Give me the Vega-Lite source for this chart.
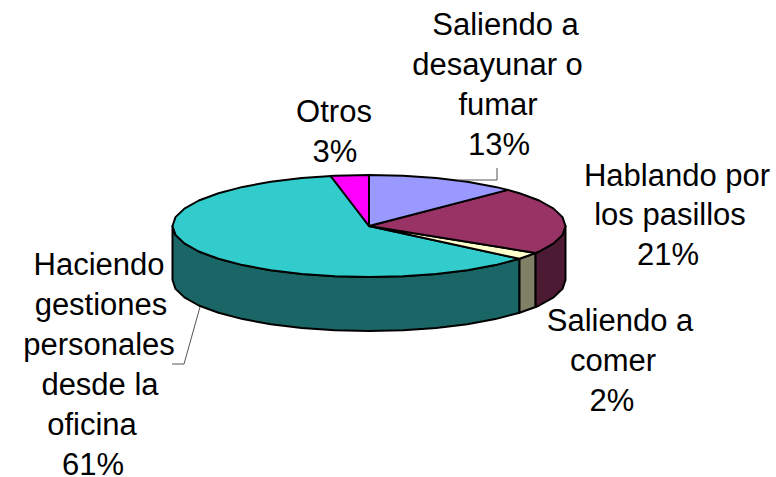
{"$schema":"https://vega.github.io/schema/vega-lite/v6.json","width":776,"height":477,"padding":0,"autosize":"none","background":"white","config":{"view":{"stroke":null}},"projection":{"type":"identity","reflectY":true,"scale":1,"translate":[369,226]},"layer":[{"data":{"values":[
{"type":"Feature","properties":{"slice":"Haciendo gestiones personales desde la oficina","share":61,"part":"Haciendo side"},"geometry":{"type":"Polygon","coordinates":[[[-196.5,0],[-193.5,-8.9],[-184.6,-17.4],[-170.2,-25.5],[-150.5,-32.8],[-126.3,-39.1],[-98.3,-44.2],[-67.2,-47.9],[-34.1,-50.2],[0,-51],[34.1,-50.2],[67.2,-47.9],[98.3,-44.2],[126.3,-39.1],[150.5,-32.8],[150.5,-86.8],[126.3,-93.1],[98.3,-98.2],[67.2,-101.9],[34.1,-104.2],[0,-105],[-34.1,-104.2],[-67.2,-101.9],[-98.3,-98.2],[-126.3,-93.1],[-150.5,-86.8],[-170.2,-79.5],[-184.6,-71.4],[-193.5,-62.9],[-196.5,-54],[-196.5,0]]]}},
{"type":"Feature","properties":{"slice":"Saliendo a comer","share":2,"part":"comer side"},"geometry":{"type":"Polygon","coordinates":[[[150.5,-32.8],[166.6,-27],[166.6,-81],[150.5,-86.8],[150.5,-32.8]]]}},
{"type":"Feature","properties":{"slice":"Hablando por los pasillos","share":21,"part":"Hablando side"},"geometry":{"type":"Polygon","coordinates":[[[166.6,-27],[170.2,-25.5],[184.6,-17.4],[193.5,-8.9],[196.5,0],[196.5,-54],[193.5,-62.9],[184.6,-71.4],[170.2,-79.5],[166.6,-81],[166.6,-27]]]}},
{"type":"Feature","properties":{"slice":"Haciendo gestiones personales desde la oficina","share":61,"part":"Haciendo"},"geometry":{"type":"Polygon","coordinates":[[[0,0],[-37.5,50.1],[-67.2,47.9],[-98.3,44.2],[-126.3,39.1],[-150.5,32.8],[-170.2,25.5],[-184.6,17.4],[-193.5,8.9],[-196.5,0],[-193.5,-8.9],[-184.6,-17.4],[-170.2,-25.5],[-150.5,-32.8],[-126.3,-39.1],[-98.3,-44.2],[-67.2,-47.9],[-34.1,-50.2],[0,-51],[34.1,-50.2],[67.2,-47.9],[98.3,-44.2],[126.3,-39.1],[150.5,-32.8],[0,0]]]}},
{"type":"Feature","properties":{"slice":"Saliendo a comer","share":2,"part":"comer"},"geometry":{"type":"Polygon","coordinates":[[[0,0],[150.5,-32.8],[166.6,-27],[0,0]]]}},
{"type":"Feature","properties":{"slice":"Hablando por los pasillos","share":21,"part":"Hablando"},"geometry":{"type":"Polygon","coordinates":[[[0,0],[166.6,-27],[170.2,-25.5],[184.6,-17.4],[193.5,-8.9],[196.5,0],[193.5,8.9],[184.6,17.4],[170.2,25.5],[150.5,32.8],[138.9,36.1],[0,0]]]}},
{"type":"Feature","properties":{"slice":"Saliendo a desayunar o fumar","share":13,"part":"desayunar"},"geometry":{"type":"Polygon","coordinates":[[[0,0],[138.9,36.1],[126.3,39.1],[98.3,44.2],[67.2,47.9],[34.1,50.2],[0,51],[0,0]]]}},
{"type":"Feature","properties":{"slice":"Otros","share":3,"part":"Otros"},"geometry":{"type":"Polygon","coordinates":[[[0,0],[0,51],[-34.1,50.2],[-38.5,50.1],[0,0]]]}}
]},"mark":{"type":"geoshape","stroke":"black","strokeWidth":2,"strokeJoin":"round"},"encoding":{"color":{"field":"properties.part","type":"nominal","legend":null,"scale":{"domain":["Haciendo side","comer side","Hablando side","Haciendo","comer","Hablando","desayunar","Otros"],"range":["#1A6666","#808066","#4D1A33","#33CCCC","#FFFFCC","#993366","#9999FF","#FF00FF"]}}}},
{"data":{"values":[
{"type":"Feature","properties":{"slice":"Haciendo"},"geometry":{"type":"LineString","coordinates":[[-169,-81],[-185,-138],[-197,-138]]}},
{"type":"Feature","properties":{"slice":"desayunar"},"geometry":{"type":"LineString","coordinates":[[89,46],[128,46],[128,58]]}}
]},"mark":{"type":"geoshape","filled":false,"stroke":"#555555","strokeWidth":1}},
{"data":{"values":[
{"line":"Saliendo a","lon":136.5,"lat":191},{"line":"desayunar o","lon":128.5,"lat":151},{"line":"fumar","lon":129,"lat":111},{"line":"13%","lon":130,"lat":71},
{"line":"Otros","lon":-35,"lat":104},{"line":"3%","lon":-34,"lat":64},
{"line":"Hablando por","lon":308,"lat":40},{"line":"los pasillos","lon":301,"lat":1},{"line":"21%","lon":299,"lat":-39},
{"line":"Saliendo a","lon":251,"lat":-105},{"line":"comer","lon":244,"lat":-145},{"line":"2%","lon":243,"lat":-185},
{"line":"Haciendo","lon":-270,"lat":-49},{"line":"gestiones","lon":-268,"lat":-89},{"line":"personales","lon":-270,"lat":-129},{"line":"desde la","lon":-269,"lat":-169},{"line":"oficina","lon":-277,"lat":-209},{"line":"61%","lon":-276,"lat":-249}
]},"mark":{"type":"text","font":"Liberation Sans","fontSize":31,"align":"center","baseline":"alphabetic","color":"black"},"encoding":{"longitude":{"field":"lon","type":"quantitative"},"latitude":{"field":"lat","type":"quantitative"},"text":{"field":"line","type":"nominal"}}}
]}
